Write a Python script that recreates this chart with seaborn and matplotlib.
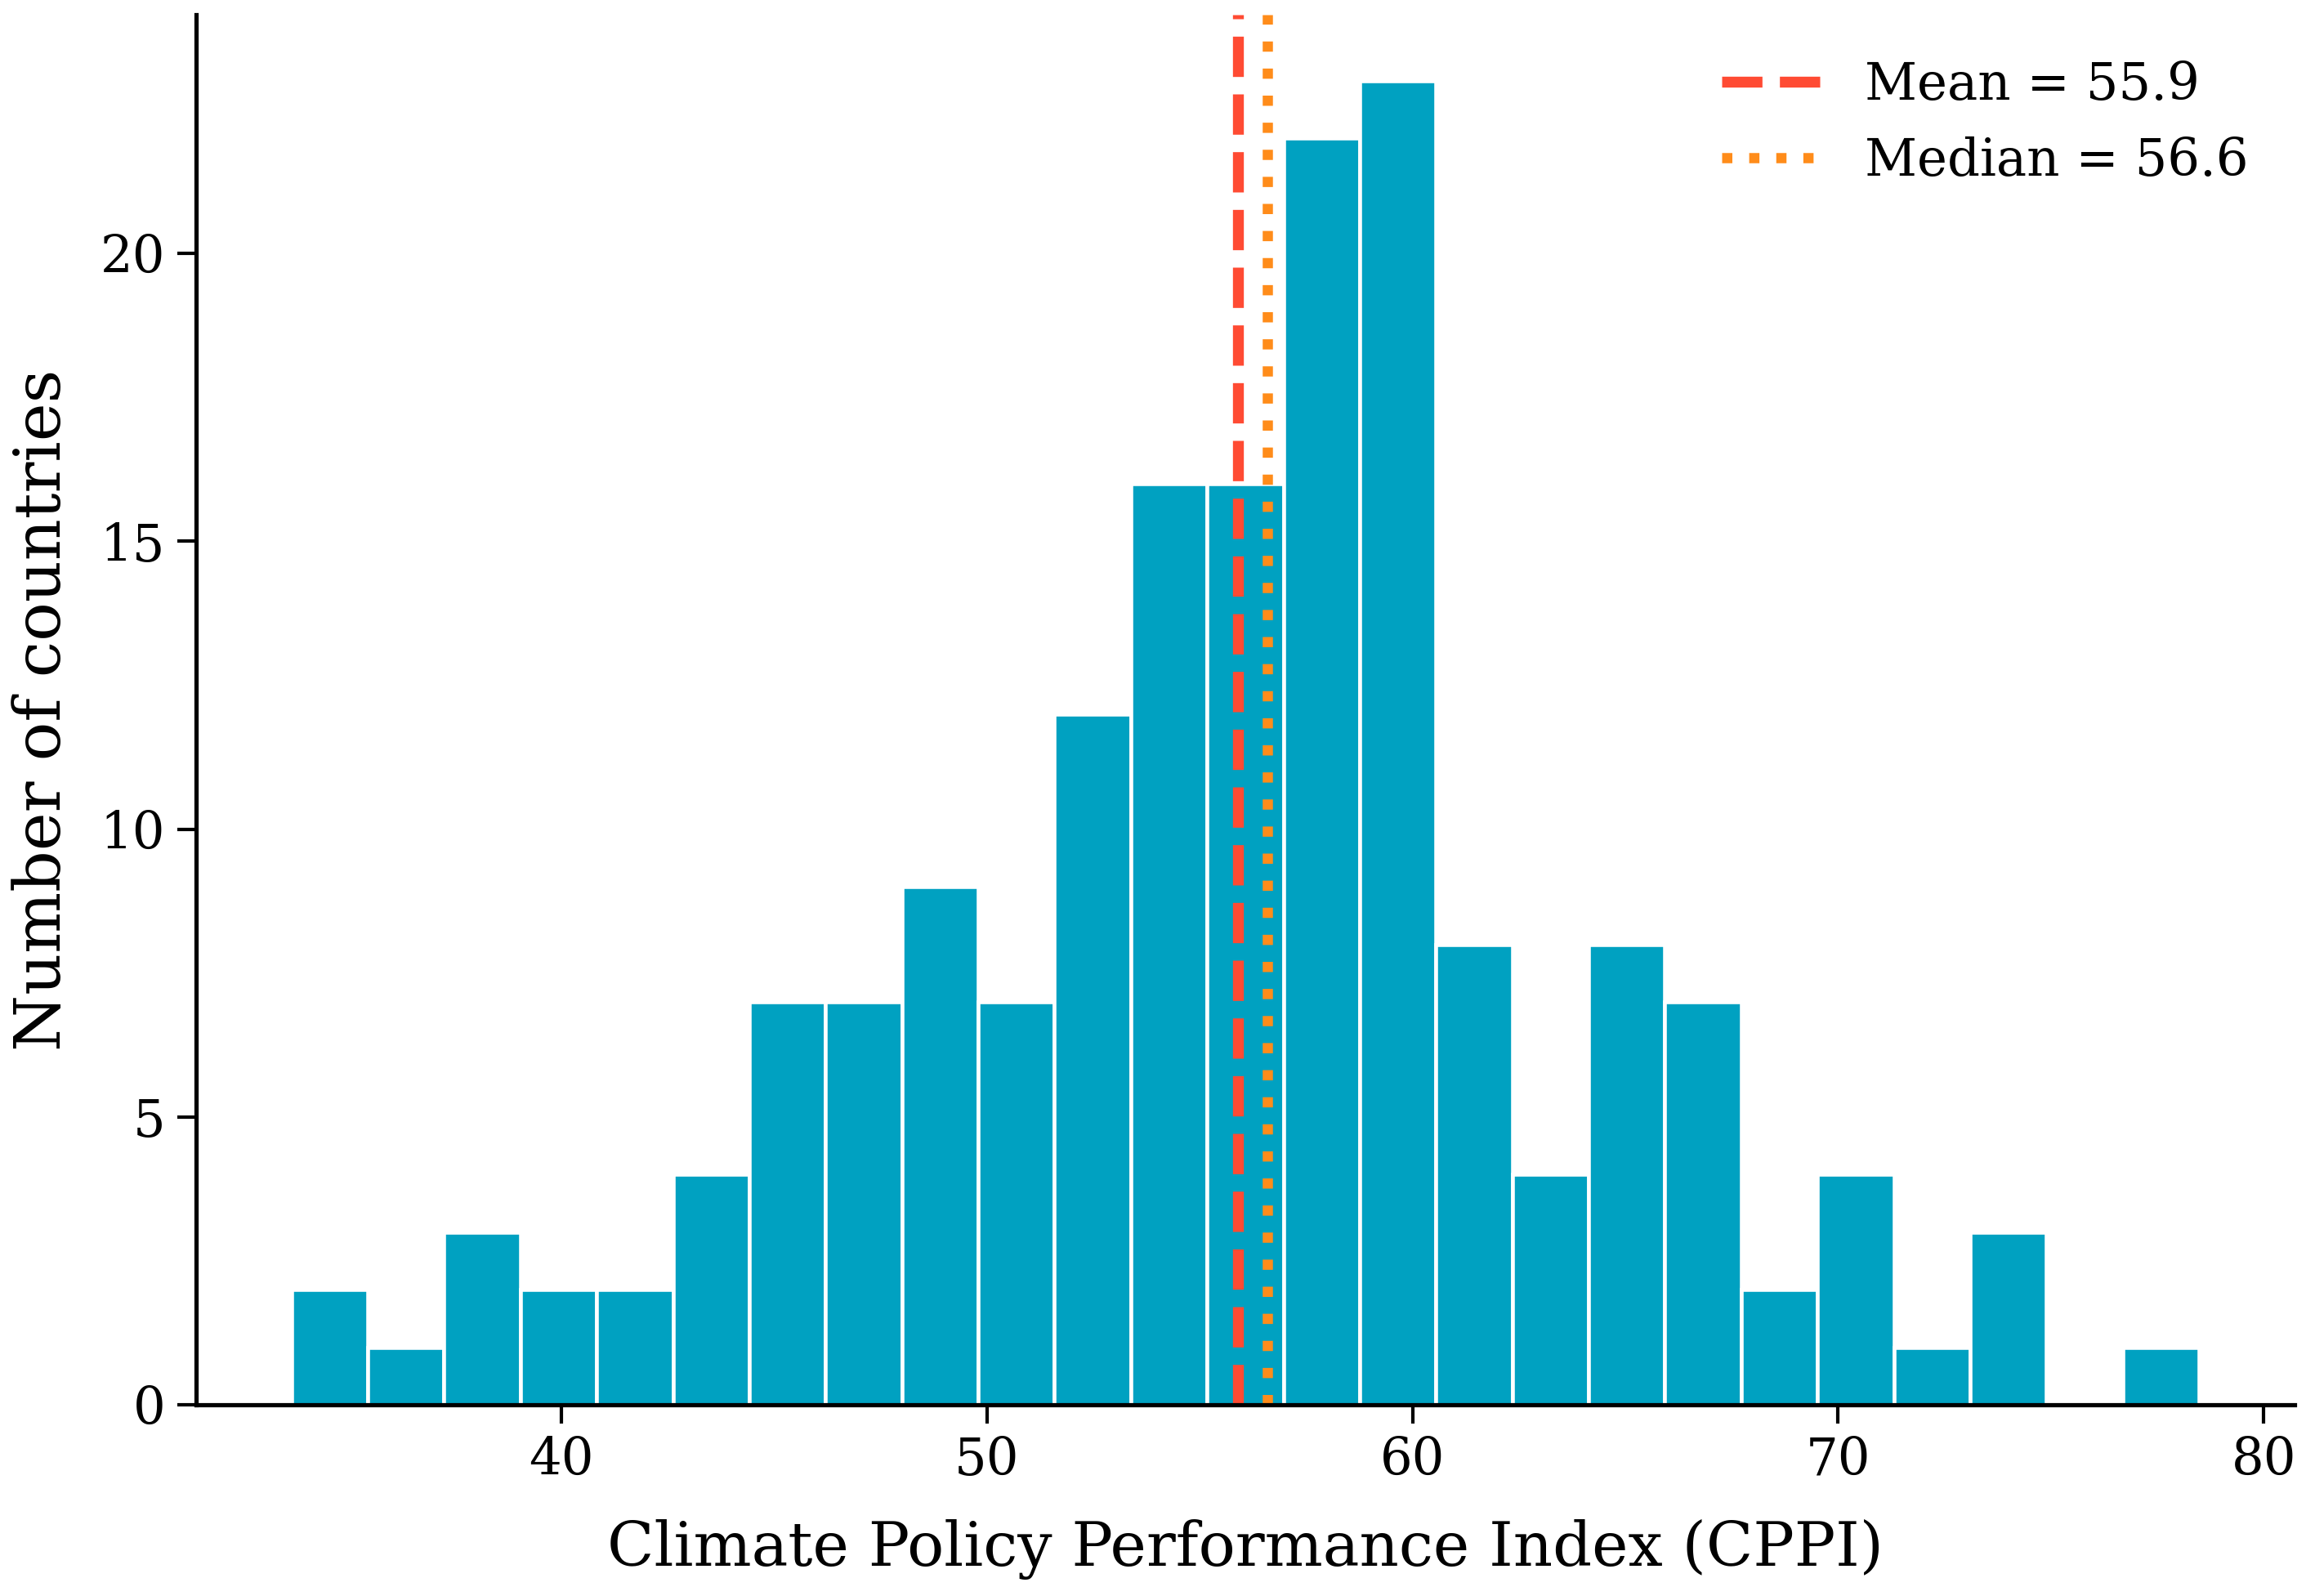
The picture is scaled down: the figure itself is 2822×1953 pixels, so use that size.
import numpy as np
import pandas as pd
import matplotlib
matplotlib.use("Agg")
import matplotlib.pyplot as plt
import seaborn as sns

# ---- data ----
bin_low = 33.66
bin_high = 78.48
counts = [2, 1, 3, 2, 2, 4, 7, 7, 9, 7, 12, 16, 16, 22, 23, 8, 4, 8, 7, 2, 4, 1, 3, 0, 1]
mean_val = 55.9
median_val = 56.6
xticks = [40, 50, 60, 70, 80]
yticks = [0, 5, 10, 15, 20]

edges = np.linspace(bin_low, bin_high, len(counts) + 1)
centers = (edges[:-1] + edges[1:]) / 2
df = pd.DataFrame({"cppi": centers, "n": counts})

sns.set_style("ticks")
plt.rcParams["font.family"] = ["DejaVu Serif"]
plt.rcParams["text.color"] = "black"
plt.rcParams["axes.labelcolor"] = "black"
plt.rcParams["xtick.color"] = "black"
plt.rcParams["ytick.color"] = "black"

fig = plt.figure(figsize=(2822 / 300, 1953 / 300), dpi=300)
ax = fig.add_axes([0.085, 0.1198, 0.91, 0.871])

sns.histplot(data=df, x="cppi", weights="n", bins=list(edges), ax=ax,
             color="#00A1C1", alpha=1.0, edgecolor="white", linewidth=1.1)

ax.axvline(mean_val, color="#FF4B33", linestyle="--", linewidth=3.2,
           label=f"Mean = {mean_val:.1f}")
ax.axvline(median_val, color="#FF8C1A", linestyle=":", linewidth=3.0,
           label=f"Median = {median_val:.1f}")

ax.set_xticks(xticks)
ax.set_yticks(yticks)
ax.tick_params(axis="both", labelsize=15, length=5.5, width=1.0, colors="black")
ax.set_xlabel("Climate Policy Performance Index (CPPI)", fontsize=18, labelpad=10)
ax.set_ylabel("Number of countries", fontsize=19, labelpad=8)

for side in ["top", "right"]:
    ax.spines[side].set_visible(False)
for side in ["left", "bottom"]:
    ax.spines[side].set_linewidth(1.25)
    ax.spines[side].set_color("black")

ax.legend(loc="upper right", frameon=False, fontsize=15)

fig.savefig("out.png", dpi=300)
